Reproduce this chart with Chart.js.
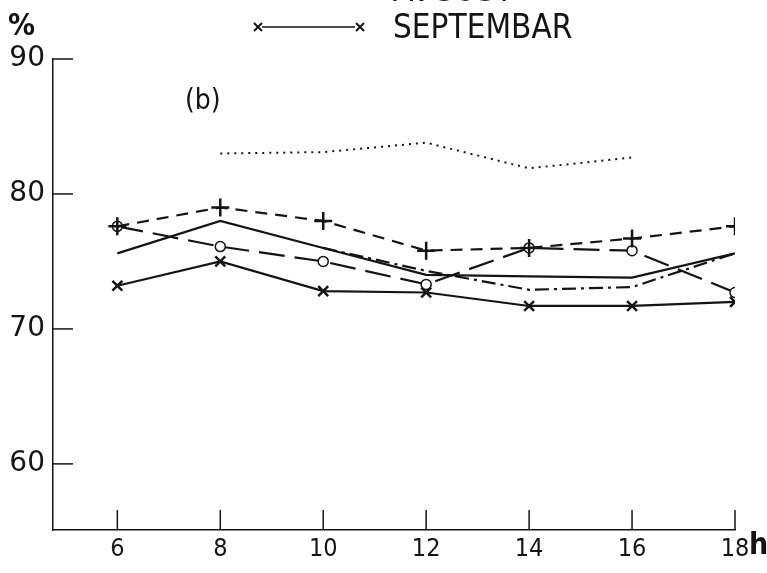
<!DOCTYPE html>
<html>
<head>
<meta charset="utf-8">
<script src="https://cdn.jsdelivr.net/npm/chart.js@4"></script>
<style>
  html, body { margin: 0; padding: 0; background: #fff; }
  #wrap { width: 767px; height: 573px; position: relative; }
</style>
</head>
<body>
<div id="wrap"><canvas id="chart"></canvas></div>
<script>
// Hours of the day (x axis)
const hours = [6, 8, 10, 12, 14, 16, 18];
const xTicks = [6, 8, 10, 12, 14, 16, 18];
const yTicks = [60, 70, 80, 90];

// Relative humidity (%)
const septembar = [73.2, 75.0, 72.8, 72.7, 71.7, 71.7, 72.0];   // x markers
const plusSeries = [77.6, 79.0, 78.0, 75.8, 76.0, 76.7, 77.6];  // dashed, + markers
const circleSeries = [77.6, 76.1, 75.0, 73.3, 76.0, 75.8, 72.7]; // long dash, o markers
const solidSeries = [75.6, 78.0, 76.0, 74.0, 73.9, 73.8, 75.6];  // plain solid
const dashDotSeries = [null, null, 76.0, 74.3, 72.9, 73.1, 75.6];
const dottedSeries = [null, 83.0, 83.1, 83.8, 81.9, 82.7, null];

const ink = '#141414';
const toPoints = arr => hours.map((h, i) => ({ x: h, y: arr[i] }));

// axis decorations: inward ticks, titles, legend text
const decorations = {
    id: 'decorations',
    afterDraw(chart) {
        const ctx = chart.ctx;
        const xs = chart.scales.x, ys = chart.scales.y;
        const area = chart.chartArea;
        ctx.save();
        ctx.strokeStyle = ink;
        ctx.lineWidth = 1.5;
        yTicks.forEach(v => {
            const y = ys.getPixelForValue(v);
            ctx.beginPath();
            ctx.moveTo(area.left, y);
            ctx.lineTo(area.left + 20, y);
            ctx.stroke();
        });
        xTicks.forEach(v => {
            const x = xs.getPixelForValue(v);
            ctx.beginPath();
            ctx.moveTo(x, area.bottom);
            ctx.lineTo(x, area.bottom - 20);
            ctx.stroke();
        });

        ctx.fillStyle = ink;
        ctx.textBaseline = 'middle';
        ctx.textAlign = 'left';
        ctx.font = 'bold 30px "DejaVu Sans Condensed"';
        ctx.fillText('%', 8, 27);
        ctx.font = '28px "DejaVu Sans Condensed"';
        ctx.fillText('(b)', 185, 102);
        ctx.font = 'bold 30px "DejaVu Sans Condensed"';
        ctx.fillText('h', 749, 546);

        // legend (top entry is cut off by the page edge)
        ctx.font = '33px "DejaVu Sans Condensed"';
        ctx.fillText('AVGUST', 393, -8);
        ctx.fillText('SEPTEMBAR', 393, 29);
        ctx.beginPath();
        ctx.moveTo(262, 27);
        ctx.lineTo(355, 27);
        ctx.stroke();
        ctx.lineWidth = 2;
        [258, 360].forEach(x => {
            ctx.beginPath();
            ctx.moveTo(x - 4, 23); ctx.lineTo(x + 4, 31);
            ctx.moveTo(x + 4, 23); ctx.lineTo(x - 4, 31);
            ctx.stroke();
        });
        ctx.restore();
    }
};

new Chart(document.getElementById('chart'), {
    type: 'line',
    data: {
        datasets: [
            {
                label: 'SEPTEMBAR',
                data: toPoints(septembar),
                borderColor: ink, borderWidth: 2.2,
                pointStyle: 'crossRot', pointRadius: 7, pointBorderWidth: 2.5,
                pointBorderColor: ink, pointBackgroundColor: ink
            },
            {
                label: 'Series +',
                data: toPoints(plusSeries),
                borderColor: ink, borderWidth: 2.2, borderDash: [12, 8],
                pointStyle: 'cross', pointRadius: 9, pointBorderWidth: 2.5,
                pointBorderColor: ink
            },
            {
                label: 'Series o',
                data: toPoints(circleSeries),
                borderColor: ink, borderWidth: 2.2, borderDash: [26, 10],
                pointStyle: 'circle', pointRadius: 5, pointBorderWidth: 1.5,
                pointBorderColor: ink, pointBackgroundColor: '#fff'
            },
            {
                label: 'Series solid',
                data: toPoints(solidSeries),
                borderColor: ink, borderWidth: 2.2, pointRadius: 0
            },
            {
                label: 'Series dash-dot',
                data: toPoints(dashDotSeries),
                borderColor: ink, borderWidth: 2.2, borderDash: [14, 5, 3, 5], pointRadius: 0
            },
            {
                label: 'Series dotted',
                data: toPoints(dottedSeries),
                borderColor: ink, borderWidth: 2, borderDash: [2, 5], pointRadius: 0
            }
        ]
    },
    options: {
        responsive: true,
        maintainAspectRatio: false,
        animation: false,
        spanGaps: false,
        layout: { padding: { top: 59, right: 32, left: 0, bottom: 0 } },
        plugins: { legend: { display: false }, tooltip: { enabled: false } },
        scales: {
            x: {
                type: 'linear', min: 4.75, max: 18,
                afterBuildTicks: s => { s.ticks = xTicks.map(v => ({ value: v })); },
                afterFit: s => { s.height = 43; },
                grid: { display: false, drawTicks: false },
                border: { display: true, color: ink, width: 1.5 },
                ticks: {
                    color: ink, padding: 4,
                    font: { family: '"DejaVu Sans Condensed"', size: 25 }
                }
            },
            y: {
                min: 55.1, max: 90,
                afterBuildTicks: s => { s.ticks = yTicks.map(v => ({ value: v })); },
                afterFit: s => { s.width = 53; },
                grid: { display: false, drawTicks: false },
                border: { display: true, color: ink, width: 1.5 },
                ticks: {
                    color: ink, padding: 8,
                    font: { family: '"DejaVu Sans"', size: 28 }
                }
            }
        }
    },
    plugins: [decorations]
});
</script>
</body>
</html>
